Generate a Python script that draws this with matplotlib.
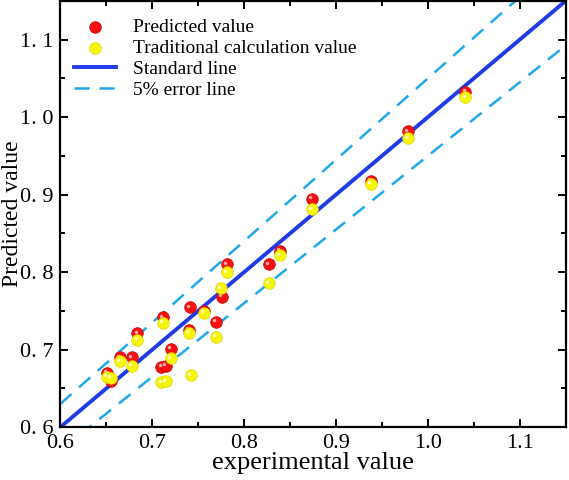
import numpy as np
import matplotlib
matplotlib.use("Agg")
import matplotlib.pyplot as plt
from matplotlib.ticker import MultipleLocator, FixedLocator, FixedFormatter

plt.rcParams['font.family'] = ['Liberation Serif', 'DejaVu Serif']

# predicted values (red)
pred_x = [0.651, 0.655, 0.665, 0.678, 0.684, 0.710, 0.715, 0.712, 0.720, 0.741, 0.740,
          0.756, 0.769, 0.776, 0.781, 0.827, 0.839, 0.874, 0.938, 0.978, 1.041]
pred_y = [0.670, 0.660, 0.690, 0.690, 0.721, 0.678, 0.679, 0.742, 0.701, 0.755, 0.726,
          0.750, 0.736, 0.768, 0.810, 0.810, 0.828, 0.895, 0.918, 0.982, 1.033]

# traditional calculation values (yellow)
trad_x = [0.651, 0.655, 0.665, 0.678, 0.684, 0.710, 0.715, 0.712, 0.720, 0.742, 0.740,
          0.756, 0.769, 0.775, 0.781, 0.827, 0.839, 0.874, 0.938, 0.978, 1.041]
trad_y = [0.665, 0.664, 0.685, 0.679, 0.713, 0.658, 0.659, 0.735, 0.689, 0.667, 0.722,
          0.748, 0.717, 0.779, 0.800, 0.786, 0.822, 0.881, 0.914, 0.973, 1.026]

line_x = [0.6, 1.15]
err = 0.05
y_ticks = [0.6, 0.7, 0.8, 0.9, 1.0, 1.1]
y_ticklabels = ['0. 6', '0. 7', '0. 8', '0. 9', '1. 0', '1. 1']

fig = plt.figure(figsize=(5.69, 4.80), dpi=100)
ax = fig.add_axes([0.106, 0.110, 0.888, 0.888])

# reference lines
lx = np.array(line_x)
ax.plot(lx, lx, color='#1f3be6', lw=2.8, label='Standard line', zorder=2)
ax.plot(lx, lx * (1 + err), color='#1ea8ec', lw=1.8, dashes=(6, 4),
        label='5% error line', zorder=2)
ax.plot(lx, lx * (1 - err), color='#1ea8ec', lw=1.8, dashes=(6, 4), zorder=2)

# points
ax.scatter(pred_x, pred_y, s=70, color='#f81010', edgecolor='#c80000', lw=0.5,
           label='Predicted value', zorder=3)
ax.scatter(trad_x, trad_y, s=70, color='#f8f40a', edgecolor='#dcd400', lw=0.5,
           label='Traditional calculation value', zorder=4)
# small highlights so they look a bit like spheres
ax.scatter(np.array(pred_x) - 0.002, np.array(pred_y) + 0.002, s=6, color='#ffb0b0',
           lw=0, zorder=3.5)
ax.scatter(np.array(trad_x) - 0.002, np.array(trad_y) + 0.002, s=6, color='#ffffc0',
           lw=0, zorder=4.5)

ax.set_xlim(0.6, 1.15)
ax.set_ylim(0.6, 1.15)

ax.xaxis.set_major_locator(MultipleLocator(0.1))
ax.xaxis.set_minor_locator(MultipleLocator(0.05))
ax.xaxis.set_major_formatter(plt.FuncFormatter(lambda v, p: f'{v:.1f}'))
ax.yaxis.set_major_locator(FixedLocator(y_ticks))
ax.yaxis.set_major_formatter(FixedFormatter(y_ticklabels))
ax.yaxis.set_minor_locator(MultipleLocator(0.05))

ax.tick_params(which='both', direction='in', top=True, right=True, width=1.4,
               labelsize=16)
ax.tick_params(which='major', length=6)
ax.tick_params(which='minor', length=3.5)
ax.tick_params(axis='x', pad=5)
ax.tick_params(axis='y', pad=5)
for sp in ax.spines.values():
    sp.set_linewidth(1.6)

ax.set_xlabel('experimental value', fontsize=19)
ax.set_ylabel('Predicted value', fontsize=17)
ax.xaxis.set_label_coords(0.5, -0.058)
ax.yaxis.set_label_coords(-0.074, 0.5)

handles, labels = ax.get_legend_handles_labels()
order = [2, 3, 0, 1]
ax.legend([handles[i] for i in order], [labels[i] for i in order],
          loc='upper left', bbox_to_anchor=(0.0, 0.99), frameon=False,
          fontsize=14, handlelength=2.15, labelspacing=0.17,
          borderaxespad=0.3, handletextpad=0.9)

fig.savefig('out.png', dpi=100)
